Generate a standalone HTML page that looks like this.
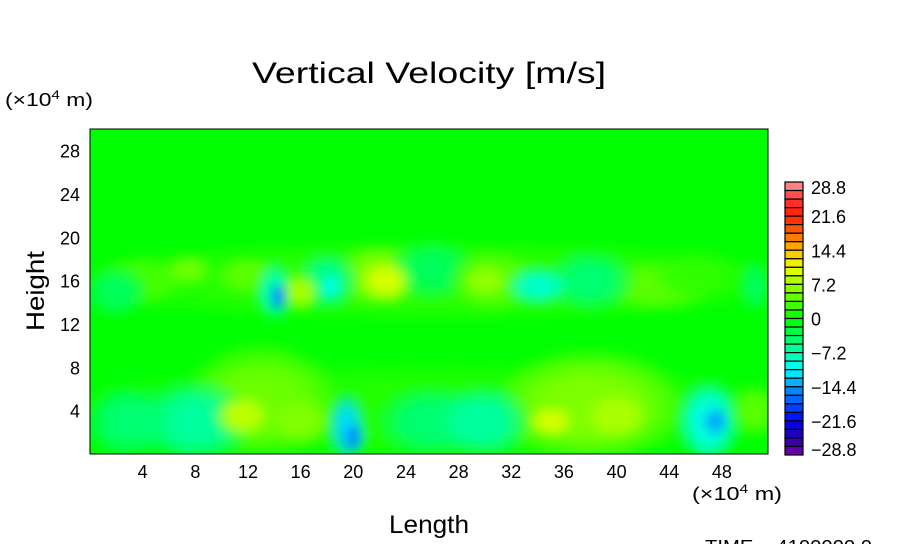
<!DOCTYPE html>
<html><head><meta charset="utf-8"><style>
body{margin:0;background:#fff;}
svg text{font-family:"Liberation Sans",sans-serif;fill:#000;}
</style></head><body>
<svg id="c" width="904" height="544" xmlns="http://www.w3.org/2000/svg">
<defs><clipPath id="clip"><rect x="90" y="129" width="678" height="325"/></clipPath><filter id="bl" x="-10%" y="-10%" width="120%" height="120%"><feGaussianBlur stdDeviation="5"/></filter></defs>
<text x="252" y="83" font-size="30" textLength="354" lengthAdjust="spacingAndGlyphs">Vertical Velocity [m/s]</text>
<text x="5" y="106" font-size="18" textLength="88" lengthAdjust="spacingAndGlyphs">(×10<tspan dy="-7" font-size="12">4</tspan><tspan dy="7"> m)</tspan></text>
<text x="692" y="500" font-size="18" textLength="90" lengthAdjust="spacingAndGlyphs">(×10<tspan dy="-7" font-size="12">4</tspan><tspan dy="7"> m)</tspan></text>
<text x="389" y="533" font-size="25" textLength="80" lengthAdjust="spacingAndGlyphs">Length</text>
<text transform="translate(44,331) rotate(-90)" font-size="25" textLength="80" lengthAdjust="spacingAndGlyphs">Height</text>
<text x="705" y="553" font-size="18" textLength="167" lengthAdjust="spacingAndGlyphs">TIME = 4100000.0</text>
<g clip-path="url(#clip)"><rect x="90" y="129" width="678" height="325" fill="#00ff00"/><g id="field" filter="url(#bl)"></g></g>
<rect x="90" y="129" width="678" height="325" fill="none" stroke="#000" stroke-width="1"/>
<g id="axes"></g>
<g id="cbar"></g>
</svg>
<script>
const xTicks=[4,8,12,16,20,24,28,32,36,40,44,48];
const yTicks=[4,8,12,16,20,24,28];
const cbLabels=[28.8,21.6,14.4,7.2,0,-7.2,-14.4,-21.6,-28.8];
const cbLabelText=["28.8","21.6","14.4","7.2","0","\u22127.2","\u221214.4","\u221221.6","\u221228.8"];
// blobs: center x, center y (10^4 m), value (m/s), radius x, radius y
const blobX=[26,26,13,11.5,16,8,3,19.5,20,26,30,38,35,40,47,47.5,50.5,4,7.5,12,14,14.3,16,18,18.3,22,22.5,26,30.5,30,34,38,43,2,50.5,46];
const blobY=[16,4,5,3.5,3,3,3,2.5,1.5,3,3,4.5,3,3.5,3,3,4,16,17,16.5,15,14.5,15,16,15.5,16.5,16,17,16,16,15.5,16,15.5,15,15.5,16.5];
const blobV=[2,1.5,5,9,6,-7,-5,-12,-15,-5,-7,6,10,8,-10,-14,4,3,5,4,-8,-16,8,-6,-10,6,10,-4,4,7,-9,-5,4,-4,-4,2];
const blobRX=[30,30,6,2.2,2.5,4.5,3.5,1.4,0.8,4.5,3.5,7.5,1.8,2.5,2.5,1,2,3.5,1.8,2.5,1.4,0.6,1.5,2.4,0.8,3.5,2,3.5,3.5,1.8,2.5,3.5,4.5,2.5,1.2,3.5];
const blobRY=[4,5,5.5,2,2.2,4,3.5,3.2,1.4,3.5,3.5,5.5,1.4,2.2,4,1.4,2.5,2.5,1.5,1.8,2.8,1.4,1.8,2.8,1.2,3,1.8,3,3,1.5,1.8,3,2.5,2.5,2.5,2.5];
const NS="http://www.w3.org/2000/svg";
const X0=90,X1=768,Y0=454,Y1=129,XMAX=51.5,YMAX=30;
const sx=v=>X0+v/XMAX*(X1-X0), sy=v=>Y0-v/YMAX*(Y0-Y1);
const cmV=[-28.8,-25,-21.6,-18,-14.4,-10.8,-7.2,-3.6,0,3.6,7.2,10.8,14.4,18,21.6,25,28.8];
const cmC=[[119,0,170],[34,0,170],[0,0,255],[0,85,255],[0,153,255],[0,255,255],[0,255,170],[0,255,85],[0,255,0],[85,255,0],[153,255,0],[238,255,0],[255,187,0],[255,102,0],[255,34,0],[255,51,51],[255,153,153]];
function cmap(v){v=Math.max(-28.8,Math.min(28.8,v));for(let i=0;i<cmV.length-1;i++){if(v<=cmV[i+1]){const t=(v-cmV[i])/(cmV[i+1]-cmV[i]);const c=cmC[i].map((a,k)=>Math.round(a+(cmC[i+1][k]-a)*t));return `rgb(${c.join(',')})`;}}return 'rgb(255,153,153)';}
function mk(tag,attrs,parent){const e=document.createElementNS(NS,tag);for(const k in attrs)e.setAttribute(k,attrs[k]);parent.appendChild(e);return e;}
const defs=document.querySelector('defs'),field=document.getElementById('field');
const idx=blobX.map((_,i)=>i).sort((a,b)=>blobRX[b]*blobRY[b]-blobRX[a]*blobRY[a]);
idx.forEach(i=>{
  const g=mk('radialGradient',{id:'g'+i},defs);
  const col=cmap(blobV[i]);
  mk('stop',{offset:'0','stop-color':col,'stop-opacity':'1'},g);
  mk('stop',{offset:'0.5','stop-color':col,'stop-opacity':'0.9'},g);
  mk('stop',{offset:'0.8','stop-color':col,'stop-opacity':'0.45'},g);
  mk('stop',{offset:'1','stop-color':col,'stop-opacity':'0'},g);
  const e=mk('ellipse',{cx:sx(blobX[i]),cy:sy(blobY[i]),rx:blobRX[i]/XMAX*(X1-X0),ry:blobRY[i]/YMAX*(Y0-Y1),fill:'url(#g'+i+')'},field);
  
  
});
const axes=document.getElementById('axes');
xTicks.forEach(v=>{
  const t=mk('text',{x:sx(v),y:478,'font-size':18,'text-anchor':'middle'},axes);
  t.textContent=v;
  
  
});
yTicks.forEach(v=>{
  const t=mk('text',{x:80,y:sy(v)+7,'font-size':18,'text-anchor':'end'},axes);
  t.textContent=v;
  
  
});
const cb=document.getElementById('cbar');
const CT=182,CB=455,N=32,bh=(CB-CT)/N;
for(let i=0;i<N;i++){
  const v=28.8-(i+0.5)*1.8;
  const r=mk('rect',{x:785,y:CT+i*bh,width:18,height:bh,fill:cmap(v),stroke:'#000','stroke-width':1.2},cb);
  
  
}
const cby=v=>CT+(28.8-v)/57.6*(CB-CT);
cbLabels.forEach((v,i)=>{
  const y=Math.min(Math.max(cby(v),187),449);
  const t=mk('text',{x:811,y:y+7,'font-size':18},cb);
  t.textContent=cbLabelText[i];
  
  
});
</script>
</body></html>
